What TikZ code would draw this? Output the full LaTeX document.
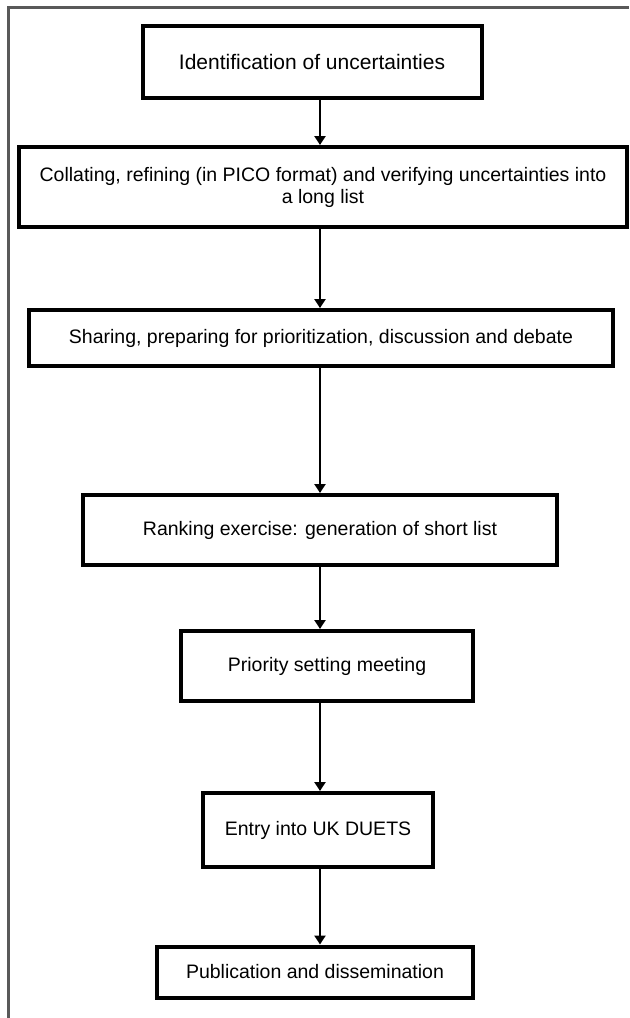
\documentclass[tikz,border=0pt]{standalone}
\usepackage{fontspec}
\setmainfont{Liberation Sans}
\usetikzlibrary{shapes,arrows.meta}
\tikzset{
  stage/.style ={draw, line width=2pt, inner sep=0pt, align=center, font=\fontsize{9.75}{11}\selectfont},
  line/.style ={draw, line width=1.3pt, -{Triangle[width=5.5pt,length=4.5pt]}, shorten >=0pt},
  frame/.style ={draw, line width=1.1pt, color=black!65}
}

\begin{document}
\begin{tikzpicture}[x=0.5pt,y=-0.5pt]
	\useasboundingbox (0,0) rectangle (629,1018);
	\draw[frame] (8.5,1018) -- (8.5,7.5) -- (629,7.5);
	\node[stage, minimum width=169.5pt, minimum height=36pt, font=\fontsize{10.5}{12}\selectfont] (ident) at (312,62) {Identification of uncertainties};
	\node[stage, minimum width=304pt, minimum height=40pt] (collate) at (323,187) {Collating, refining (in PICO format) and verifying uncertainties into\\a long list};
	\node[stage, minimum width=292pt, minimum height=28pt] (share) at (321,338) {Sharing, preparing for prioritization, discussion and debate};
	\node[stage, minimum width=237pt, minimum height=35pt] (rank) at (320,530) {Ranking exercise: generation of short list};
	\node[stage, minimum width=146pt, minimum height=35pt] (meet) at (327,666) {Priority setting meeting};
	\node[stage, minimum width=115pt, minimum height=37pt] (duets) at (318,830) {Entry into UK DUETS};
	\node[stage, minimum width=158pt, minimum height=25.5pt] (publ) at (315,972) {Publication and dissemination};
	\coordinate (axis) at (320,0);
	\draw[line] (ident.south -| axis) -- (collate.north -| axis);
	\draw[line] (collate.south -| axis) -- (share.north -| axis);
	\draw[line] (share.south -| axis) -- (rank.north -| axis);
	\draw[line] (rank.south -| axis) -- (meet.north -| axis);
	\draw[line] (meet.south -| axis) -- (duets.north -| axis);
	\draw[line] (duets.south -| axis) -- (publ.north -| axis);
\end{tikzpicture}
\end{document}
